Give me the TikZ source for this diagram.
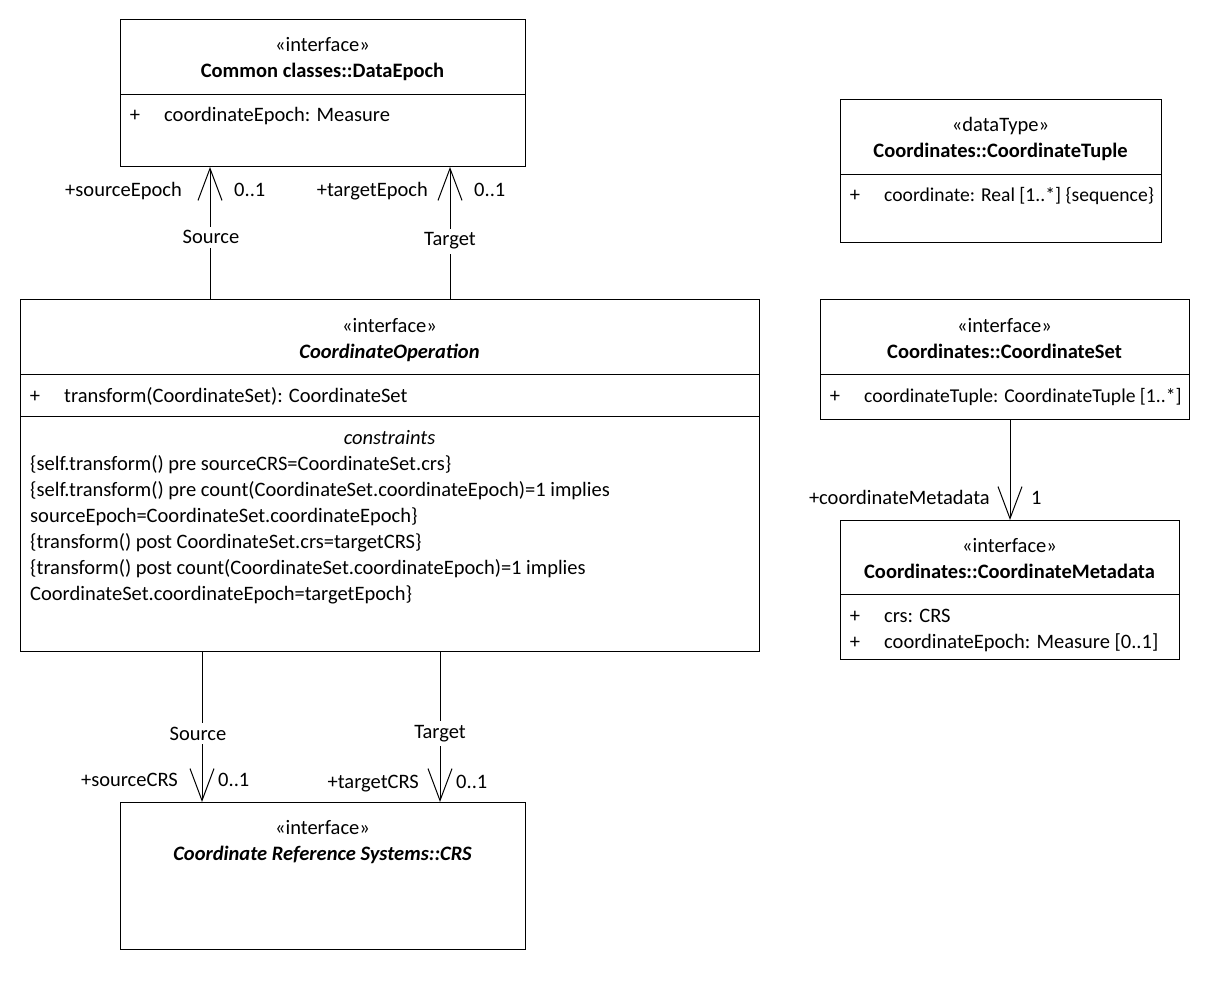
\documentclass[tikz,border=0pt]{standalone}
\usepackage{fontspec}
\setmainfont{Carlito}
\usetikzlibrary{arrows.meta}
\newcommand{\umlfont}{\fontsize{20.5}{24}\selectfont}
\newcommand{\umlnarrow}{\fontsize{19.6}{24}\selectfont}
\begin{document}
\begin{tikzpicture}[x=1pt,y=-1pt,
  box/.style={draw, line width=1pt, anchor=north west, inner sep=0pt, outer sep=0pt},
  txt/.style={anchor=base, inner sep=0pt, font=\umlfont},
  lt/.style={txt, anchor=base west},
  ltn/.style={lt, font=\umlnarrow},
  rt/.style={txt, anchor=base east},
  lbl/.style={txt, fill=white, inner xsep=2pt, inner ysep=4pt},
  nm/.style={txt, font=\umlfont\bfseries},
  nmi/.style={txt, font=\umlfont\bfseries\itshape},
  assoc/.style={line width=1pt, -{Straight Barb[length=32pt,width=24pt,line width=1pt]}},
  sep/.style={line width=1pt}]
\useasboundingbox (0,0) rectangle (1210,1008);

% ---------- Common classes::DataEpoch ----------
\node[box, minimum width=405pt, minimum height=147pt] (ep) at (120,20) {};
\draw[sep] (ep.west |- 0,95) -- (ep.east |- 0,95);
\node[txt] (epst) at (322.5,52) {«interface»};
\node[nm]  (epnm) at (322.5,78) {Common classes::DataEpoch};
\node[txt] (epp1) at (135,122) {+};
\node[lt]  (epa1) at (164,122) {coordinateEpoch: Measure};

% ---------- Coordinates::CoordinateTuple ----------
\node[box, minimum width=321pt, minimum height=143pt] (tp) at (840,100) {};
\draw[sep] (tp.west |- 0,175) -- (tp.east |- 0,175);
\node[txt] (tpst) at (1000.5,132) {«dataType»};
\node[nm]  (tpnm) at (1000.5,158) {Coordinates::CoordinateTuple};
\node[txt] (tpp1) at (855,202) {+};
\node[ltn] (tpa1) at (884,202) {coordinate: Real [1..*] \{sequence\}};

% ---------- CoordinateOperation ----------
\node[box, minimum width=739pt, minimum height=351pt] (op) at (20,300) {};
\draw[sep] (op.west |- 0,374) -- (op.east |- 0,374);
\draw[sep] (op.west |- 0,416) -- (op.east |- 0,416);
\node[txt] (opst) at (389.5,332) {«interface»};
\node[nmi] (opnm) at (389.5,358) {CoordinateOperation};
\node[txt] (opp1) at (35,402) {+};
\node[lt]  (opm1) at (64,402) {transform(CoordinateSet): CoordinateSet};
\node[txt, font=\umlfont\itshape] (opct) at (389.5,444) {constraints};
\node[lt] (opc1) at (30,470) {\{self.transform() pre sourceCRS=CoordinateSet.crs\}};
\node[lt] (opc2) at (30,496) {\{self.transform() pre count(CoordinateSet.coordinateEpoch)=1 implies};
\node[lt] (opc3) at (30,522) {sourceEpoch=CoordinateSet.coordinateEpoch\}};
\node[lt] (opc4) at (30,548) {\{transform() post CoordinateSet.crs=targetCRS\}};
\node[lt] (opc5) at (30,574) {\{transform() post count(CoordinateSet.coordinateEpoch)=1 implies};
\node[lt] (opc6) at (30,600) {CoordinateSet.coordinateEpoch=targetEpoch\}};

% ---------- Coordinates::CoordinateSet ----------
\node[box, minimum width=369pt, minimum height=119pt] (cs) at (820,300) {};
\draw[sep] (cs.west |- 0,374) -- (cs.east |- 0,374);
\node[txt] (csst) at (1004.5,332) {«interface»};
\node[nm]  (csnm) at (1004.5,358) {Coordinates::CoordinateSet};
\node[txt] (csp1) at (835,402) {+};
\node[ltn] (csa1) at (864,402) {coordinateTuple: CoordinateTuple [1..*]};

% ---------- Coordinates::CoordinateMetadata ----------
\node[box, minimum width=339pt, minimum height=139pt] (md) at (840,520) {};
\draw[sep] (md.west |- 0,594) -- (md.east |- 0,594);
\node[txt] (mdst) at (1009.5,552) {«interface»};
\node[nm]  (mdnm) at (1009.5,578) {Coordinates::CoordinateMetadata};
\node[txt] (mdp1) at (855,622) {+};
\node[lt]  (mda1) at (884,622) {crs: CRS};
\node[txt] (mdp2) at (855,648) {+};
\node[lt]  (mda2) at (884,648) {coordinateEpoch: Measure [0..1]};

% ---------- Coordinate Reference Systems::CRS ----------
\node[box, minimum width=405pt, minimum height=147pt] (crs) at (120,802) {};
\node[txt] (crsst) at (322.5,834) {«interface»};
\node[nmi] (crsnm) at (322.5,860) {Coordinate Reference Systems::CRS};

% ---------- associations ----------
\draw[assoc] (op.north -| 210,0) -- (ep.south -| 210,0);
\node[lbl] (l1) at (211,244) {Source};
\node[rt]  (r1) at (182,197) {+sourceEpoch};
\node[lt]  (m1) at (234,197) {0..1};

\draw[assoc] (op.north -| 450,0) -- (ep.south -| 450,0);
\node[lbl] (l2) at (450,246) {Target};
\node[rt]  (r2) at (428,197) {+targetEpoch};
\node[lt]  (m2) at (474,197) {0..1};

\draw[assoc] (op.south -| 202,0) -- (crs.north -| 202,0);
\node[lbl] (l3) at (198,740) {Source};
\node[rt]  (r3) at (178,786) {+sourceCRS};
\node[lt]  (m3) at (218,786) {0..1};

\draw[assoc] (op.south -| 440,0) -- (crs.north -| 440,0);
\node[lbl] (l4) at (440,738) {Target};
\node[rt]  (r4) at (419,788) {+targetCRS};
\node[lt]  (m4) at (456,788) {0..1};

\draw[assoc] (cs.south -| 1010,0) -- (md.north -| 1010,0);
\node[rt]  (r5) at (990,504) {+coordinateMetadata};
\node[lt]  (m5) at (1031,504) {1};
\end{tikzpicture}
\end{document}
